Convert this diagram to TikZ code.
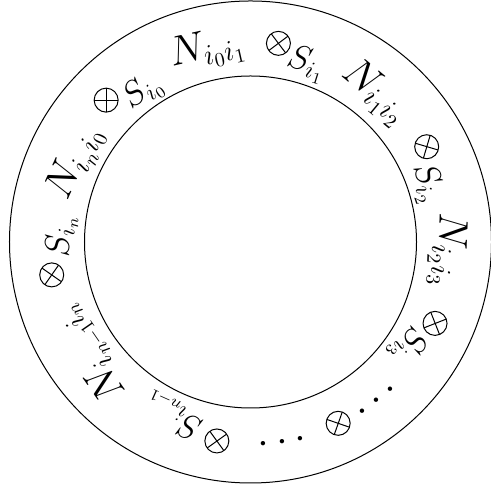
\documentclass[tikz,border=0pt]{standalone}
\begin{document}
\begin{tikzpicture}[x=0.5pt,y=0.5pt,
  nlab/.style={inner sep=0pt, font=\fontsize{19.5}{22}\selectfont},
  slab/.style={inner sep=0pt, font=\fontsize{16.5}{19}\selectfont},
  ocirc/.style={circle, draw, line width=0.5pt, minimum size=12pt, inner sep=0pt, outer sep=0pt},
  ring/.style={line width=0.5pt}]
\useasboundingbox (-250.5,-248) rectangle (240.5,242);
\draw[ring] (0,0) circle (241);
\draw[ring] (0,0) circle (166);
% N labels
\node[nlab, rotate=12.6]   (n01) at (102.6:197) {$N_{i_0i_1}$};
\node[nlab, rotate=-39.8]  (n12) at (50.2:195)  {$N_{i_1i_2}$};
\node[nlab, rotate=-92.3]  (n23) at (-2.3:197)  {$N_{i_2i_3}$};
\node[nlab, rotate=-235.3] (nn1) at (-145.3:195) {$N_{i_{n-1}i_n}$};
\node[nlab, rotate=65.7]   (nn0) at (155.7:192) {$N_{i_ni_0}$};
% crossed circles
\foreach \nm/\ang/\rad in {o1/82.0/200.6, o2/28.4/200.3, o3/-23.8/201.7,
    ox/-64.2/201.4, on1/-99.6/201.8, on/-170.6/201.5, o0/135.5/202.4} {
  \node[ocirc] (\nm) at (\ang:\rad) {};
  \pgfmathsetmacro\ta{\ang-45}
  \pgfmathsetmacro\tb{\ang+135}
  \pgfmathsetmacro\tc{\ang+45}
  \pgfmathsetmacro\td{\ang-135}
  \draw[line width=0.5pt] (\nm.\ta) -- (\nm.\tb);
  \draw[line width=0.5pt] (\nm.\tc) -- (\nm.\td);
}
% S labels
\node[slab, rotate=-17.5]  (s1)  at (72.5:186.7)  {$S_{i_1}$};
\node[slab, rotate=-71.6]  (s2)  at (18.4:185.7)  {$S_{i_2}$};
\node[slab, rotate=-123.2] (s3)  at (-33.2:188.2) {$S_{i_3}$};
\node[slab, rotate=-204]   (sn1) at (-114.0:189.5) {$S_{i_{n-1}}$};
\node[slab, rotate=-271.6] (sn)  at (178.4:188.9) {$S_{i_n}$};
\node[slab, rotate=35.5]   (s0)  at (125.5:184.6) {$S_{i_0}$};
% dots
\node[nlab, rotate=-141.5] (d1)  at (-51.5:201) {$\cdots$};
\node[nlab, rotate=-171]   (d2)  at (-81:200.5) {$\cdots$};
\end{tikzpicture}
\end{document}
